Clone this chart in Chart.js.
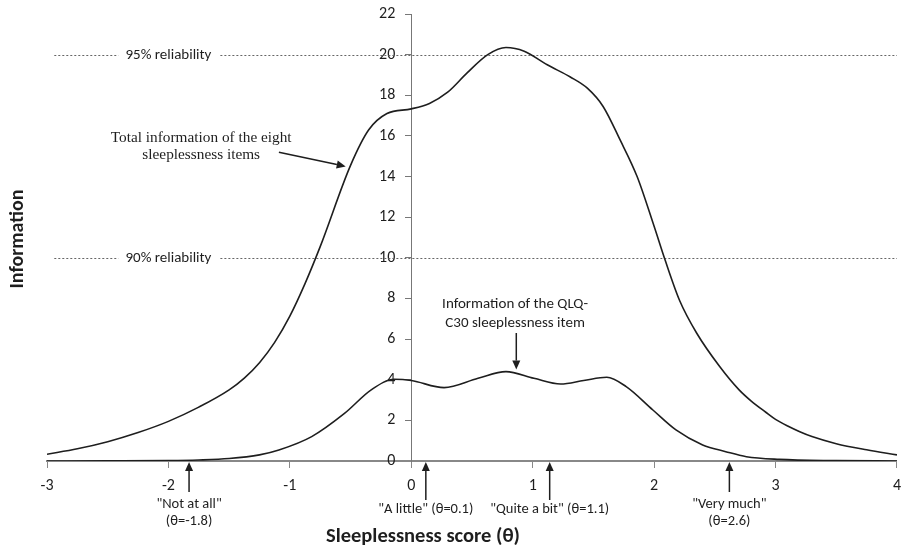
<!DOCTYPE html>
<html>
<head>
<meta charset="utf-8">
<script src="https://cdn.jsdelivr.net/npm/chart.js@4"></script>
<style>
  html, body { margin: 0; padding: 0; background: #fff; }
  #wrap { width: 910px; height: 551px; }
</style>
</head>
<body>
<div id="wrap"><canvas id="info-chart"></canvas></div>
<script>
// total information of the eight sleeplessness items (theta, information)
var totalTheta = [-3, -2.75, -2.5, -2.25, -2, -1.75, -1.5, -1.375, -1.25, -1.125, -1.0, -0.875, -0.75, -0.5, -0.35, -0.2, 0, 0.15, 0.3, 0.46, 0.63, 0.78, 0.93, 1.12, 1.31, 1.45, 1.58, 1.72, 1.86, 2.0, 2.09, 2.21, 2.35, 2.54, 2.7, 2.8, 2.92, 3.0, 3.1, 3.2, 3.3, 3.5, 3.75, 4];
var totalInfo  = [0.33, 0.6, 0.95, 1.4, 1.95, 2.65, 3.5, 4.08, 4.84, 5.84, 7.13, 8.73, 10.55, 14.55, 16.3, 17.1, 17.33, 17.6, 18.15, 19.1, 20.0, 20.35, 20.17, 19.5, 18.9, 18.35, 17.45, 15.8, 14.0, 11.55, 9.9, 7.9, 6.3, 4.65, 3.5, 2.95, 2.4, 2.05, 1.72, 1.44, 1.2, 0.85, 0.55, 0.3];

// information of the QLQ-C30 sleeplessness item
var qlqTheta = [-3, -2.5, -2, -1.75, -1.5, -1.25, -1.09, -0.82, -0.55, -0.33, -0.14, 0, 0.27, 0.55, 0.78, 1.01, 1.23, 1.42, 1.61, 1.77, 1.99, 2.18, 2.4, 2.59, 2.76, 3.03, 3.5, 4];
var qlqInfo  = [0, 0.005, 0.02, 0.05, 0.12, 0.3, 0.54, 1.2, 2.34, 3.5, 4.02, 3.96, 3.61, 4.07, 4.4, 4.07, 3.79, 3.96, 4.12, 3.66, 2.51, 1.53, 0.79, 0.46, 0.21, 0.08, 0.02, 0];

var xTicks = [-3, -2, -1, 0, 1, 2, 3, 4];
var yTicks = [0, 2, 4, 6, 8, 10, 12, 14, 16, 18, 20, 22];

var reliabilityLevels = [20, 10];
var reliabilityLabels = ['95% reliability', '90% reliability'];

var responseTheta  = [-1.83, 0.12, 1.14, 2.62];
var responseLabels = [['"Not at all"', '(θ=-1.8)'], ['"A little" (θ=0.1)'], ['"Quite a bit" (θ=1.1)'], ['"Very much"', '(θ=2.6)']];

var SANS = 'Carlito, Calibri, Lato, sans-serif';
var INK = '#1e1e1e';

function toPoints(xs, ys) {
  var pts = [];
  for (let i = 0; i < xs.length; i++) {
    pts.push({ x: xs[i], y: ys[i] });
  }
  return pts;
}

function arrow(ctx, x1, y1, x2, y2) {
  var a = Math.atan2(y2 - y1, x2 - x1);
  var len = 9, half = 4;
  ctx.beginPath();
  ctx.moveTo(x1, y1);
  ctx.lineTo(x2 - Math.cos(a) * len, y2 - Math.sin(a) * len);
  ctx.stroke();
  ctx.beginPath();
  ctx.moveTo(x2, y2);
  ctx.lineTo(x2 - Math.cos(a) * len - Math.sin(a) * half, y2 - Math.sin(a) * len + Math.cos(a) * half);
  ctx.lineTo(x2 - Math.cos(a) * len + Math.sin(a) * half, y2 - Math.sin(a) * len - Math.cos(a) * half);
  ctx.closePath();
  ctx.fill();
}

// y tick labels sit left of the centred axis (chart.js right-aligns them on the line)
const yLabels = {
  id: 'yLabels',
  beforeDatasetsDraw(chart) {
    const ctx = chart.ctx, xs = chart.scales.x, ys = chart.scales.y;
    const x0 = xs.getPixelForValue(0) - 16;
    ctx.save();
    ctx.font = '16px ' + SANS;
    ctx.fillStyle = INK;
    ctx.textAlign = 'right';
    ctx.textBaseline = 'middle';
    yTicks.forEach(v => ctx.fillText(String(v), x0, ys.getPixelForValue(v)));
    ctx.restore();
  }
};

const reliabilityLines = {
  id: 'reliabilityLines',
  beforeDatasetsDraw(chart) {
    const ctx = chart.ctx, xs = chart.scales.x, ys = chart.scales.y;
    ctx.save();
    ctx.font = '15px ' + SANS;
    ctx.textAlign = 'center';
    ctx.textBaseline = 'middle';
    for (let i = 0; i < reliabilityLevels.length; i++) {
      let y = Math.round(ys.getPixelForValue(reliabilityLevels[i])) + 0.5;
      let cx = xs.getPixelForValue(-2);
      let w = ctx.measureText(reliabilityLabels[i]).width;
      ctx.strokeStyle = '#666';
      ctx.lineWidth = 1;
      ctx.setLineDash([2, 2]);
      ctx.beginPath();
      ctx.moveTo(xs.getPixelForValue(-2.94), y);
      ctx.lineTo(cx - w / 2 - 7, y);
      ctx.moveTo(cx + w / 2 + 9, y);
      ctx.lineTo(xs.right, y);
      ctx.stroke();
      ctx.setLineDash([]);
      ctx.fillStyle = INK;
      ctx.fillText(reliabilityLabels[i], cx, y);
    }
    ctx.restore();
  }
};

const notes = {
  id: 'notes',
  afterDraw(chart) {
    const ctx = chart.ctx, xs = chart.scales.x, ys = chart.scales.y;
    const X = v => xs.getPixelForValue(v), Y = v => ys.getPixelForValue(v);
    ctx.save();
    ctx.fillStyle = INK;
    ctx.strokeStyle = INK;
    ctx.lineWidth = 1.5;
    ctx.textAlign = 'center';
    ctx.textBaseline = 'middle';

    // total information label
    ctx.font = '15.3px "Liberation Serif", "Times New Roman", serif';
    ctx.fillText('Total information of the eight', X(-1.73), Y(15.9));
    ctx.fillText('sleeplessness items', X(-1.73), Y(15.05));
    arrow(ctx, X(-1.09), Y(15.2), X(-0.54), Y(14.5));

    // QLQ-C30 label
    ctx.font = '15px ' + SANS;
    ctx.fillText('Information of the QLQ-', X(0.855), Y(7.72));
    ctx.fillText('C30 sleeplessness item', X(0.855), Y(6.8));
    arrow(ctx, X(0.865), Y(6.3), X(0.865), Y(4.5));

    // response category arrows
    let base = ys.bottom;
    ctx.font = '14.5px ' + SANS;
    for (let i = 0; i < responseTheta.length; i++) {
      let x = X(responseTheta[i]);
      let lines = responseLabels[i];
      arrow(ctx, x, base + (lines.length > 1 ? 31 : 39), x, base + 1);
      if (lines.length > 1) {
        ctx.fillText(lines[0], x, base + 43);
        ctx.fillText(lines[1], x, base + 60);
      } else {
        ctx.fillText(lines[0], x, base + 48);
      }
    }

    // axis titles
    ctx.font = 'bold 20.5px ' + SANS;
    ctx.fillText('Sleeplessness score (θ)', 423, 537);
    ctx.font = 'bold 20px ' + SANS;
    ctx.translate(18, 239);
    ctx.rotate(-Math.PI / 2);
    ctx.fillText('Information', 0, 0);
    ctx.restore();
  }
};

function infoChart(id) {
  const ctx = document.getElementById(id);
  return new Chart(ctx, {
    type: 'line',
    data: {
      datasets: [{
        label: 'Total information',
        data: toPoints(totalTheta, totalInfo),
        borderColor: INK,
        borderWidth: 1.6,
        pointRadius: 0,
        cubicInterpolationMode: 'monotone',
        fill: false
      }, {
        label: 'QLQ-C30 item',
        data: toPoints(qlqTheta, qlqInfo),
        borderColor: INK,
        borderWidth: 1.6,
        pointRadius: 0,
        cubicInterpolationMode: 'monotone',
        fill: false
      }]
    },
    options: {
      responsive: true,
      maintainAspectRatio: false,
      animation: false,
      layout: { padding: { left: 47, right: 8, top: 14, bottom: 90 } },
      scales: {
        x: {
          type: 'linear',
          min: -3,
          max: 4,
          position: { y: 0 },
          afterBuildTicks: s => { s.ticks = xTicks.map(v => ({ value: v })); },
          ticks: { color: INK, font: { family: SANS, size: 16 }, padding: 9, maxRotation: 0 },
          grid: { drawOnChartArea: false, tickLength: 6, color: '#888' },
          border: { color: '#888', width: 2 }
        },
        y: {
          min: 0,
          max: 22,
          position: { x: 0 },
          afterBuildTicks: s => { s.ticks = yTicks.map(v => ({ value: v })); },
          ticks: { display: false },
          grid: { drawOnChartArea: false, tickLength: 6, color: '#777' },
          border: { color: '#777', width: 1 }
        }
      },
      plugins: {
        legend: { display: false },
        tooltip: { enabled: false }
      }
    },
    plugins: [yLabels, reliabilityLines, notes]
  });
}

infoChart('info-chart');
</script>
</body>
</html>
